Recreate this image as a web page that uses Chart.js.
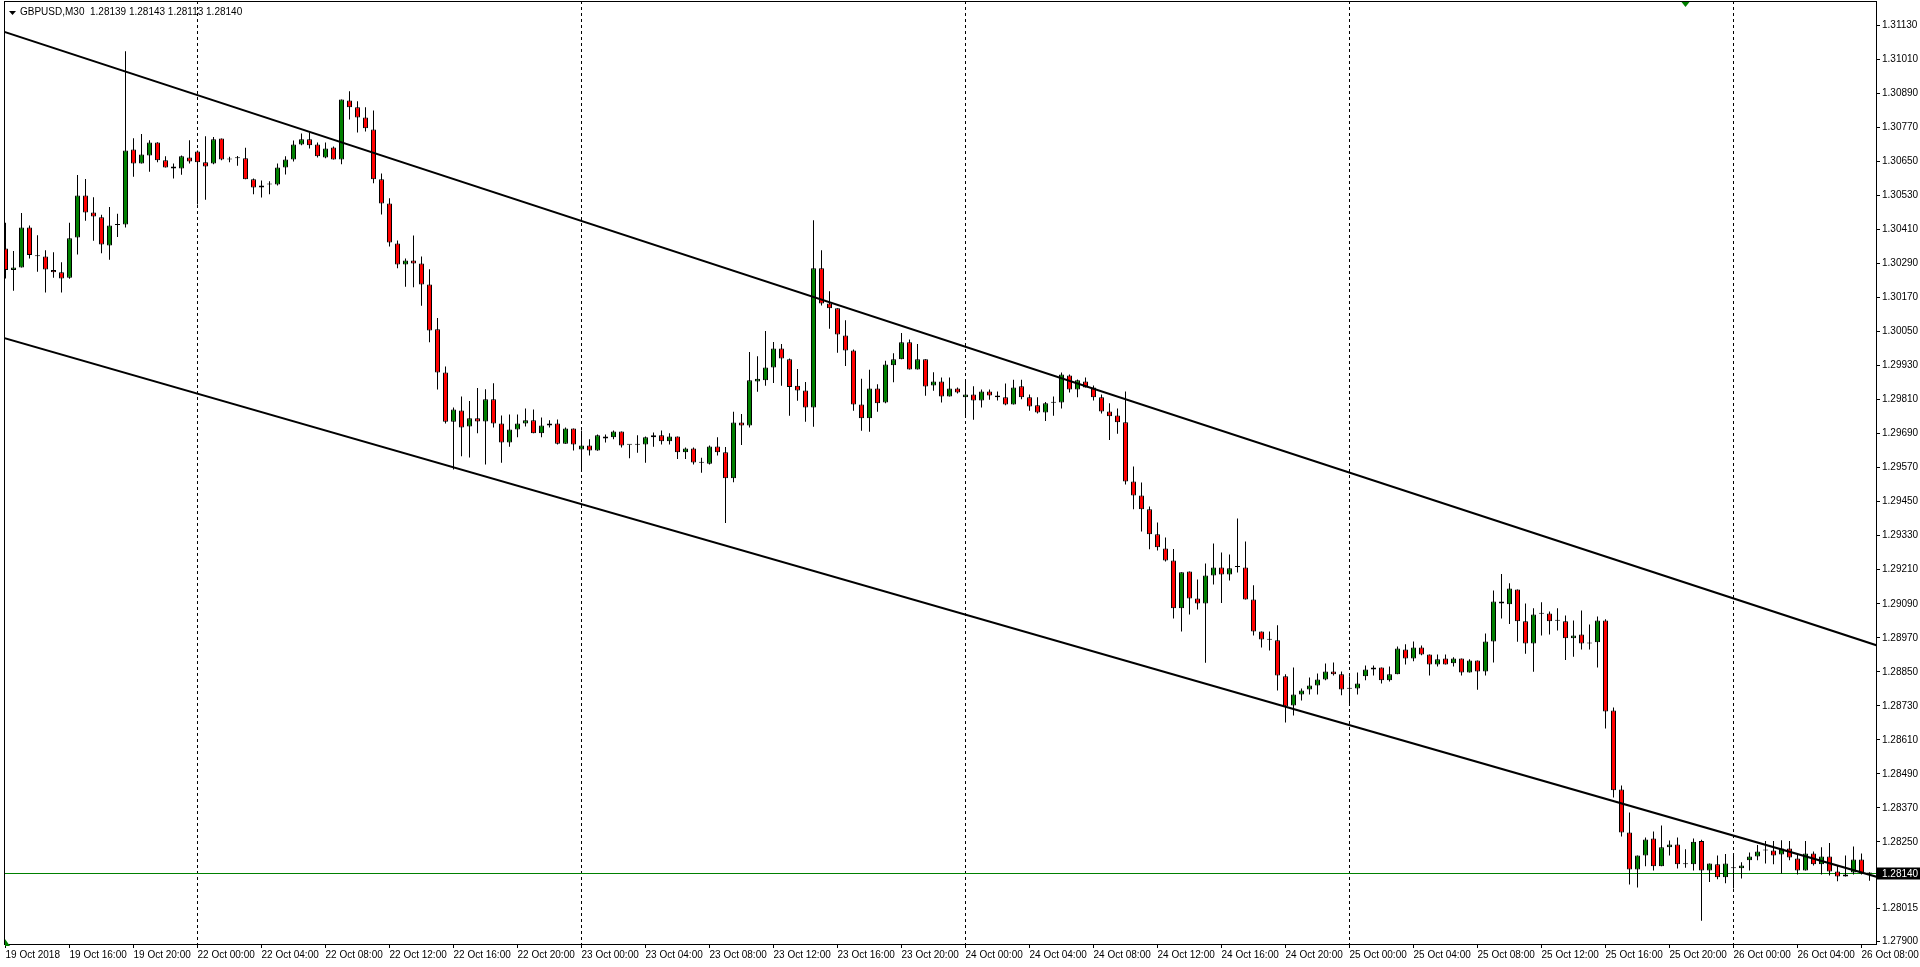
<!DOCTYPE html>
<html>
<head>
<meta charset="utf-8">
<script src="https://cdn.jsdelivr.net/npm/chart.js@4.4.0/dist/chart.umd.min.js"></script>
<style>html,body{margin:0;padding:0;background:#fff;overflow:hidden}canvas{display:block}</style>
</head>
<body>
<canvas id="c" width="1920" height="967"></canvas>
<script>
// ---------- data (GBPUSD, M30, 19 Oct 12:00 .. 26 Oct 08:30) ----------
const symbolTitle = 'GBPUSD,M30';
const lastQuote = ['1.28139', '1.28143', '1.28113', '1.28140'];
const bidPrice = 1.28140;

const open = [
1.30343,1.30267,1.30276,1.30417,1.30316,1.30315,1.30267,1.30259,1.30240,1.30382,
1.30530,1.30470,1.30453,1.30354,1.30426,1.30428,1.30692,1.30643,1.30671,1.30717,
1.30654,1.30632,1.30625,1.30664,1.30685,1.30647,1.30643,1.30731,1.30657,1.30661,
1.30661,1.30587,1.30558,1.30569,1.30569,1.30629,1.30657,1.30710,1.30728,1.30710,
1.30664,1.30699,1.30657,1.30865,1.30841,1.30805,1.30763,1.30587,1.30502,1.30361,
1.30287,1.30301,1.30290,1.30216,1.30058,1.29906,1.29732,1.29772,1.29715,1.29744,
1.29733,1.29811,1.29726,1.29659,1.29705,1.29726,1.29737,1.29691,1.29719,1.29726,
1.29654,1.29708,1.29634,1.29648,1.29631,1.29680,1.29677,1.29698,1.29651,1.29651,
1.29652,1.29677,1.29684,1.29663,1.29680,1.29624,1.29638,1.29587,1.29584,1.29645,
1.29624,1.29533,1.29729,1.29719,1.29874,1.29878,1.29923,1.29990,1.29952,1.29859,
1.29842,1.29782,1.30273,1.30149,1.30132,1.30036,1.29983,1.29793,1.29744,1.29849,
1.29800,1.29931,1.29952,1.30012,1.29916,1.29952,1.29860,1.29874,1.29821,1.29849,
1.29818,1.29828,1.29807,1.29839,1.29825,1.29818,1.29793,1.29857,1.29818,1.29790,
1.29765,1.29799,1.29800,1.29895,1.29846,1.29874,1.29853,1.29818,1.29768,1.29754,
1.29730,1.29521,1.29472,1.29423,1.29335,1.29285,1.29243,1.29074,1.29204,1.29109,
1.29091,1.29190,1.29218,1.29193,1.29220,1.29218,1.29105,1.28992,1.28963,1.28961,
1.28834,1.28731,1.28770,1.28788,1.28802,1.28823,1.28851,1.28841,1.28790,1.28791,
1.28834,1.28858,1.28865,1.28820,1.28841,1.28929,1.28897,1.28936,1.28911,1.28876,
1.28897,1.28880,1.28897,1.28848,1.28890,1.28851,1.28957,1.29098,1.29088,1.29140,
1.29028,1.28950,1.29055,1.29056,1.29030,1.29028,1.28968,1.28982,1.28950,1.28954,
1.29031,1.28714,1.28435,1.28283,1.28153,1.28202,1.28262,1.28164,1.28231,1.28241,
1.28171,1.28171,1.28253,1.28149,1.28171,1.28125,1.28157,1.28157,1.28185,1.28199,
1.28220,1.28220,1.28206,1.28227,1.28192,1.28149,1.28209,1.28171,1.28199,1.28146,
1.28128,1.28142,1.28188,1.28139
];
const high = [
1.30434,1.30334,1.30468,1.30424,1.30390,1.30337,1.30330,1.30295,1.30434,1.30602,
1.30588,1.30524,1.30462,1.30489,1.30466,1.31039,1.30732,1.30747,1.30725,1.30718,
1.30668,1.30643,1.30671,1.30725,1.30689,1.30739,1.30736,1.30731,1.30667,1.30669,
1.30698,1.30590,1.30583,1.30580,1.30643,1.30668,1.30724,1.30749,1.30752,1.30717,
1.30717,1.30703,1.30869,1.30898,1.30862,1.30841,1.30830,1.30608,1.30520,1.30371,
1.30308,1.30389,1.30315,1.30270,1.30098,1.29927,1.29782,1.29821,1.29805,1.29851,
1.29847,1.29868,1.29754,1.29758,1.29758,1.29779,1.29775,1.29747,1.29737,1.29740,
1.29712,1.29708,1.29701,1.29670,1.29687,1.29687,1.29701,1.29698,1.29651,1.29684,
1.29680,1.29694,1.29701,1.29691,1.29680,1.29641,1.29641,1.29605,1.29648,1.29677,
1.29643,1.29767,1.29759,1.29978,1.29963,1.30052,1.30013,1.30006,1.29955,1.29918,
1.29872,1.30443,1.30337,1.30192,1.30132,1.30090,1.29987,1.29884,1.29915,1.29864,
1.29947,1.29974,1.30045,1.30022,1.30006,1.29952,1.29907,1.29888,1.29888,1.29853,
1.29874,1.29857,1.29846,1.29846,1.29839,1.29867,1.29880,1.29880,1.29828,1.29818,
1.29802,1.29821,1.29906,1.29899,1.29881,1.29888,1.29860,1.29828,1.29797,1.29779,
1.29839,1.29574,1.29518,1.29433,1.29377,1.29324,1.29283,1.29201,1.29204,1.29176,
1.29232,1.29303,1.29271,1.29264,1.29391,1.29310,1.29155,1.28992,1.28992,1.29014,
1.28841,1.28865,1.28791,1.28830,1.28844,1.28879,1.28883,1.28851,1.28834,1.28848,
1.28872,1.28872,1.28865,1.28869,1.28939,1.28947,1.28957,1.28943,1.28911,1.28911,
1.28911,1.28901,1.28897,1.28894,1.28890,1.28985,1.29137,1.29195,1.29162,1.29140,
1.29091,1.29074,1.29095,1.29063,1.29074,1.29049,1.29031,1.29066,1.29017,1.29045,
1.29035,1.28724,1.28449,1.28354,1.28202,1.28266,1.28287,1.28308,1.28255,1.28266,
1.28224,1.28262,1.28258,1.28174,1.28202,1.28207,1.28207,1.28178,1.28213,1.28239,
1.28253,1.28253,1.28256,1.28253,1.28209,1.28253,1.28216,1.28231,1.28246,1.28167,
1.28202,1.28234,1.28209,1.28143
];
const low = [
1.30237,1.30194,1.30276,1.30308,1.30261,1.30188,1.30240,1.30188,1.30236,1.30322,
1.30441,1.30370,1.30326,1.30303,1.30384,1.30417,1.30596,1.30643,1.30614,1.30647,
1.30629,1.30590,1.30603,1.30643,1.30498,1.30515,1.30640,1.30654,1.30647,1.30635,
1.30587,1.30534,1.30523,1.30534,1.30565,1.30604,1.30650,1.30707,1.30696,1.30664,
1.30661,1.30657,1.30640,1.30798,1.30752,1.30756,1.30573,1.30463,1.30350,1.30273,
1.30208,1.30206,1.30141,1.30012,1.29846,1.29726,1.29564,1.29610,1.29606,1.29691,
1.29581,1.29712,1.29587,1.29644,1.29677,1.29715,1.29691,1.29677,1.29712,1.29652,
1.29654,1.29631,1.29559,1.29613,1.29630,1.29659,1.29670,1.29641,1.29603,1.29623,
1.29587,1.29644,1.29652,1.29652,1.29601,1.29601,1.29581,1.29552,1.29581,1.29613,
1.29375,1.29519,1.29650,1.29712,1.29838,1.29859,1.29869,1.29859,1.29753,1.29806,
1.29732,1.29714,1.30142,1.30060,1.29975,1.29929,1.29771,1.29700,1.29697,1.29767,
1.29797,1.29871,1.29952,1.29916,1.29916,1.29824,1.29841,1.29800,1.29821,1.29832,
1.29751,1.29739,1.29782,1.29810,1.29807,1.29790,1.29793,1.29811,1.29771,1.29761,
1.29735,1.29753,1.29779,1.29835,1.29818,1.29853,1.29807,1.29761,1.29668,1.29690,
1.29511,1.29423,1.29345,1.29282,1.29278,1.29239,1.29038,1.28992,1.29052,1.29070,
1.28882,1.29158,1.29093,1.29172,1.29200,1.29105,1.28978,1.28936,1.28925,1.28784,
1.28671,1.28696,1.28749,1.28770,1.28770,1.28820,1.28837,1.28767,1.28738,1.28770,
1.28820,1.28837,1.28809,1.28816,1.28841,1.28876,1.28887,1.28908,1.28837,1.28869,
1.28876,1.28869,1.28837,1.28848,1.28787,1.28837,1.28883,1.29038,1.29019,1.28956,
1.28914,1.28850,1.28978,1.28982,1.28996,1.28892,1.28903,1.28929,1.28929,1.28865,
1.28650,1.28407,1.28269,1.28100,1.28089,1.28164,1.28149,1.28164,1.28202,1.28156,
1.28159,1.28149,1.27972,1.28109,1.28118,1.28104,1.28086,1.28121,1.28149,1.28185,
1.28174,1.28171,1.28139,1.28185,1.28135,1.28149,1.28167,1.28135,1.28132,1.28111,
1.28128,1.28135,1.28135,1.28113
];
const close = [
1.30267,1.30276,1.30417,1.30320,1.30316,1.30269,1.30259,1.30237,1.30379,1.30530,
1.30470,1.30456,1.30357,1.30424,1.30426,1.30689,1.30643,1.30675,1.30717,1.30654,
1.30629,1.30625,1.30668,1.30650,1.30647,1.30632,1.30728,1.30657,1.30657,1.30661,
1.30587,1.30558,1.30565,1.30569,1.30629,1.30657,1.30710,1.30728,1.30707,1.30668,
1.30696,1.30657,1.30869,1.30841,1.30805,1.30767,1.30587,1.30502,1.30364,1.30287,
1.30301,1.30290,1.30216,1.30054,1.29906,1.29732,1.29775,1.29712,1.29744,1.29733,
1.29811,1.29726,1.29659,1.29705,1.29726,1.29737,1.29691,1.29719,1.29726,1.29654,
1.29708,1.29652,1.29648,1.29631,1.29684,1.29673,1.29698,1.29648,1.29651,1.29651,
1.29677,1.29684,1.29663,1.29680,1.29624,1.29638,1.29588,1.29587,1.29645,1.29624,
1.29533,1.29729,1.29719,1.29878,1.29884,1.29923,1.29990,1.29955,1.29855,1.29842,
1.29782,1.30273,1.30149,1.30132,1.30040,1.29983,1.29793,1.29744,1.29849,1.29797,
1.29934,1.29952,1.30012,1.29916,1.29952,1.29856,1.29874,1.29821,1.29849,1.29835,
1.29828,1.29807,1.29839,1.29825,1.29818,1.29793,1.29853,1.29818,1.29786,1.29765,
1.29797,1.29799,1.29899,1.29846,1.29878,1.29853,1.29818,1.29768,1.29751,1.29730,
1.29521,1.29472,1.29423,1.29335,1.29289,1.29243,1.29074,1.29201,1.29109,1.29091,
1.29190,1.29218,1.29193,1.29215,1.29220,1.29105,1.28992,1.28964,1.28963,1.28837,
1.28728,1.28770,1.28784,1.28802,1.28823,1.28851,1.28841,1.28788,1.28790,1.28809,
1.28858,1.28865,1.28820,1.28841,1.28932,1.28897,1.28936,1.28911,1.28876,1.28894,
1.28876,1.28897,1.28848,1.28890,1.28851,1.28957,1.29098,1.29091,1.29144,1.29028,
1.28950,1.29052,1.29055,1.29028,1.29030,1.28968,1.28978,1.28950,1.28950,1.29031,
1.28710,1.28432,1.28283,1.28153,1.28202,1.28259,1.28164,1.28231,1.28241,1.28171,
1.28171,1.28251,1.28149,1.28174,1.28125,1.28174,1.28157,1.28167,1.28199,1.28216,
1.28220,1.28202,1.28227,1.28195,1.28149,1.28209,1.28171,1.28199,1.28146,1.28128,
1.28135,1.28188,1.28139,1.28140
];

// time axis: candle index of each label, and the label text
const timeTickIndex = [0,8,16,24,32,40,48,56,64,72,80,88,96,104,112,120,128,136,144,152,160,168,176,184,192,200,208,216,224,232];
const timeTickLabels = [
'19 Oct 2018','19 Oct 16:00','19 Oct 20:00','22 Oct 00:00','22 Oct 04:00','22 Oct 08:00','22 Oct 12:00','22 Oct 16:00',
'22 Oct 20:00','23 Oct 00:00','23 Oct 04:00','23 Oct 08:00','23 Oct 12:00','23 Oct 16:00','23 Oct 20:00','24 Oct 00:00',
'24 Oct 04:00','24 Oct 08:00','24 Oct 12:00','24 Oct 16:00','24 Oct 20:00','25 Oct 00:00','25 Oct 04:00','25 Oct 08:00',
'25 Oct 12:00','25 Oct 16:00','25 Oct 20:00','26 Oct 00:00','26 Oct 04:00','26 Oct 08:00'];
const daySeparatorIndex = [24,72,120,168,216];
const priceTicks = [1.31130,1.31010,1.30890,1.30770,1.30650,1.30530,1.30410,1.30290,1.30170,1.30050,
1.29930,1.29810,1.29690,1.29570,1.29450,1.29330,1.29210,1.29090,1.28970,1.28850,1.28730,1.28610,
1.28490,1.28370,1.28250,1.28015,1.27900];

// channel (trend) lines: [candle index, price] at both ends
const upperChannelX = [-1, 235];
const upperChannelY = [1.31115, 1.28933];
const lowerChannelX = [-1, 235];
const lowerChannelY = [1.30034, 1.28118];
const markerCandle = 210;

// visible window
const viewFrom = -0.1875, viewTo = 233.8125;
const priceMin = 1.27890, priceMax = 1.31216;

// ---------- chart ----------
const FONT = {family: "'Liberation Sans', Arial, sans-serif", size: 10};
Chart.defaults.font.family = FONT.family;
Chart.defaults.font.size = 10;
Chart.defaults.color = '#000';

const idx = open.map((_, i) => i);
const bodyFill = idx.map(i => close[i] > open[i] ? '#008000' : (close[i] < open[i] ? '#ff0000' : '#000000'));

const mtDecor = {
  id: 'mtDecor',
  beforeDraw(chart) {
    const c = chart.ctx; c.save(); c.fillStyle = '#fff'; c.fillRect(0, 0, chart.width, chart.height); c.restore();
  },
  beforeDatasetsDraw(chart) {
    const {ctx, chartArea: a, scales: {x, y}} = chart;
    ctx.save();
    ctx.strokeStyle = '#000'; ctx.lineWidth = 1; ctx.setLineDash([3, 3]);
    daySeparatorIndex.forEach(i => {
      const px = Math.floor(x.getPixelForValue(i)) + 0.5;
      ctx.beginPath(); ctx.moveTo(px, a.top); ctx.lineTo(px, a.bottom); ctx.stroke();
    });
    ctx.setLineDash([]);
    const by = Math.floor(y.getPixelForValue(bidPrice)) + 0.5;
    ctx.strokeStyle = '#008000';
    ctx.beginPath(); ctx.moveTo(a.left, by); ctx.lineTo(a.right, by); ctx.stroke();
    ctx.restore();
  },
  afterDraw(chart) {
    const {ctx, chartArea: a, scales: {x, y}} = chart;
    ctx.save();
    ctx.strokeStyle = '#000'; ctx.lineWidth = 1;
    ctx.strokeRect(a.left + 0.5, a.top + 0.5, a.right - a.left, a.bottom - a.top);
    const by = Math.floor(y.getPixelForValue(bidPrice)) + 0.5;
    ctx.fillStyle = '#000';
    ctx.fillRect(a.right + 1, by - 6, chart.width - a.right - 1, 12);
    ctx.fillStyle = '#fff'; ctx.font = `${FONT.size}px ${FONT.family}`;
    ctx.textBaseline = 'middle'; ctx.textAlign = 'left';
    ctx.fillText(bidPrice.toFixed(5), a.right + 6, by + 0.5);
    ctx.fillStyle = '#000';
    ctx.beginPath(); ctx.moveTo(9, 11); ctx.lineTo(16, 11); ctx.lineTo(12.5, 15); ctx.closePath(); ctx.fill();
    ctx.fillText(symbolTitle + '  ' + lastQuote.join(' '), 20, 12.5);
    const mx = x.getPixelForValue(markerCandle);
    ctx.fillStyle = '#008000';
    ctx.beginPath(); ctx.moveTo(mx - 4, a.top + 1); ctx.lineTo(mx + 4, a.top + 1); ctx.lineTo(mx, a.top + 6); ctx.closePath(); ctx.fill();
    // small scroll marker at the bottom-left corner
    ctx.beginPath(); ctx.moveTo(a.left + 1, a.bottom - 5); ctx.lineTo(a.left + 1, a.bottom + 2); ctx.lineTo(a.left + 6, a.bottom + 2); ctx.closePath(); ctx.fill();
    ctx.restore();
  }
};

new Chart(document.getElementById('c'), {
  type: 'bar',
  data: {
    datasets: [
      {
        type: 'line', label: 'upper channel',
        data: upperChannelX.map((v, k) => ({x: v, y: upperChannelY[k]})),
        borderColor: '#000', borderWidth: 2, pointRadius: 0, tension: 0, fill: false, order: -1
      },
      {
        type: 'line', label: 'lower channel',
        data: lowerChannelX.map((v, k) => ({x: v, y: lowerChannelY[k]})),
        borderColor: '#000', borderWidth: 2, pointRadius: 0, tension: 0, fill: false, order: -1
      },
      {
        type: 'bar', label: 'body',
        data: idx.map(i => ({x: i, y: [open[i], close[i]]})),
        backgroundColor: bodyFill, borderColor: '#000', borderWidth: 1, borderSkipped: false,
        grouped: false, maxBarThickness: 5, barThickness: 5, minBarLength: 1, inflateAmount: 0, order: 1
      },
      {
        type: 'bar', label: 'wick',
        data: idx.map(i => ({x: i, y: [low[i], high[i]]})),
        backgroundColor: '#000', borderWidth: 0, grouped: false, maxBarThickness: 1, barThickness: 1,
        inflateAmount: 0, order: 2
      }
    ]
  },
  options: {
    responsive: false, animation: false, devicePixelRatio: 1,
    layout: {padding: {left: 4, top: 1, right: 0, bottom: 0}, autoPadding: false},
    plugins: {legend: {display: false}, tooltip: {enabled: false}, title: {display: false}},
    scales: {
      x: {
        type: 'linear', min: viewFrom, max: viewTo, offset: false,
        grid: {drawOnChartArea: false, drawTicks: true, tickLength: 4, tickColor: '#000', offset: false},
        border: {display: true, color: '#000', width: 1},
        ticks: {
          autoSkip: false, maxRotation: 0, minRotation: 0, align: 'start', labelOffset: 0, padding: 1,
          color: '#000', font: FONT, callback: (v, i) => timeTickLabels[i]
        },
        afterBuildTicks: s => { s.ticks = timeTickIndex.map(v => ({value: v})); },
        afterFit: s => { s.height = 23; s.paddingLeft = 0; s.paddingRight = 0; s.paddingTop = 0; s.paddingBottom = 0; }
      },
      y: {
        type: 'linear', position: 'right', min: priceMin, max: priceMax,
        grid: {drawOnChartArea: false, drawTicks: true, tickLength: 4, tickColor: '#000'},
        border: {display: true, color: '#000', width: 1},
        ticks: {autoSkip: false, padding: 2, color: '#000', font: FONT, callback: v => v.toFixed(5)},
        afterBuildTicks: s => { s.ticks = priceTicks.map(v => ({value: v})); },
        afterFit: s => { s.width = 44; s.paddingTop = 0; s.paddingBottom = 0; s.paddingLeft = 0; s.paddingRight = 0; }
      }
    }
  },
  plugins: [mtDecor]
});
</script>
</body>
</html>
